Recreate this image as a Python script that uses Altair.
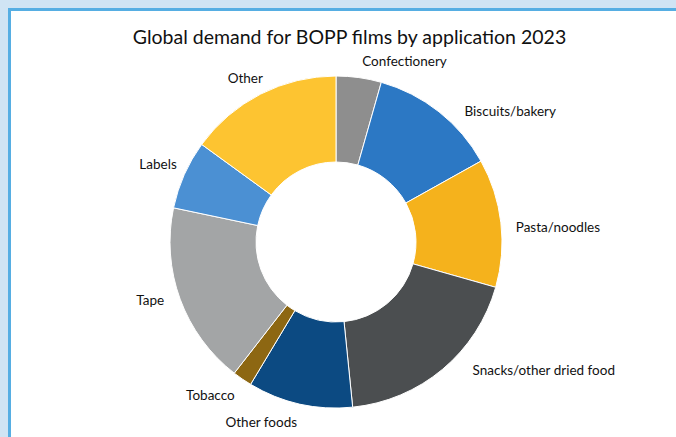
import altair as alt
import pandas as pd

categories = ["Confectionery", "Biscuits/bakery", "Pasta/noodles", "Snacks/other dried food",
              "Other foods", "Tobacco", "Tape", "Labels", "Other"]
shares = [4.4, 12.5, 12.5, 19.0, 10.2, 1.9, 17.8, 6.7, 15.0]
colors = ["#8e8e8e", "#2c78c4", "#f5b21c", "#4b4e50", "#0c4a82", "#8d6712", "#a3a5a6", "#4b90d3", "#fdc431"]

# manual label nudges (dx, dy) in pixels, like hand-placed data labels
label_nudge = {
    "Confectionery": (1, 1), "Biscuits/bakery": (15, 14), "Pasta/noodles": (-2, 7),
    "Snacks/other dried food": (19, -11), "Other foods": (1, 2), "Tobacco": (2, 3),
    "Tape": (0, -4), "Labels": (8, -3), "Other": (10, 0),
}

df = pd.DataFrame({"category": categories, "share": shares, "order": list(range(len(categories)))})
cum = df["share"].cumsum() - df["share"] / 2
sides = ["right" if c < df["share"].sum() / 2 else "left" for c in cum]

W, H = 665, 426
CX, CY = 325, 231

color = alt.Color("category:N", scale=alt.Scale(domain=categories, range=colors), legend=None)
theta = alt.Theta("share:Q", stack=True)
order = alt.Order("order:Q")

base = alt.Chart(df)

arcs = base.mark_arc(innerRadius=80, outerRadius=166, stroke="#ffffff", strokeWidth=1).encode(
    theta=theta, color=color, order=order, x=alt.value(CX), y=alt.value(CY)
)

font = "Lato"
labels = []
for cat, side in zip(categories, sides):
    dx, dy = label_nudge[cat]
    labels.append(
        base.mark_text(radius=183, align="left" if side == "right" else "right", baseline="middle",
                       font=font, fontSize=13.5, color="#111111", dx=dx, dy=dy).encode(
            theta=theta, order=order, text="category:N", x=alt.value(CX), y=alt.value(CY),
            opacity=alt.condition(alt.datum.category == cat, alt.value(1), alt.value(0))
        )
    )

border = "#56aee3"
one = alt.Data(values=[{"k": 1}])
left_rule = alt.Chart(one).mark_rule(color=border, strokeWidth=3).encode(
    x=alt.value(-1.5), y=alt.value(-3), y2=alt.value(H + 20)
)
top_rule = alt.Chart(one).mark_rule(color=border, strokeWidth=3).encode(
    y=alt.value(-1.5), x=alt.value(-3), x2=alt.value(W + 20)
)

chart = alt.layer(arcs, *labels, left_rule, top_rule).properties(
    width=W, height=H,
    title=alt.TitleParams("Global demand for BOPP films by application 2023", font=font, fontSize=19.5,
                          fontWeight="normal", color="#111111", anchor="middle", offset=-42, dx=6),
    autosize=alt.AutoSizeParams(type="none"),
    padding={"left": 11, "top": 11, "right": 0, "bottom": 0},
    background="#d0e4f4",
).configure_view(fill="#ffffff", stroke=None)

chart.save("out.html", embed_options={"renderer": "svg", "actions": False})
